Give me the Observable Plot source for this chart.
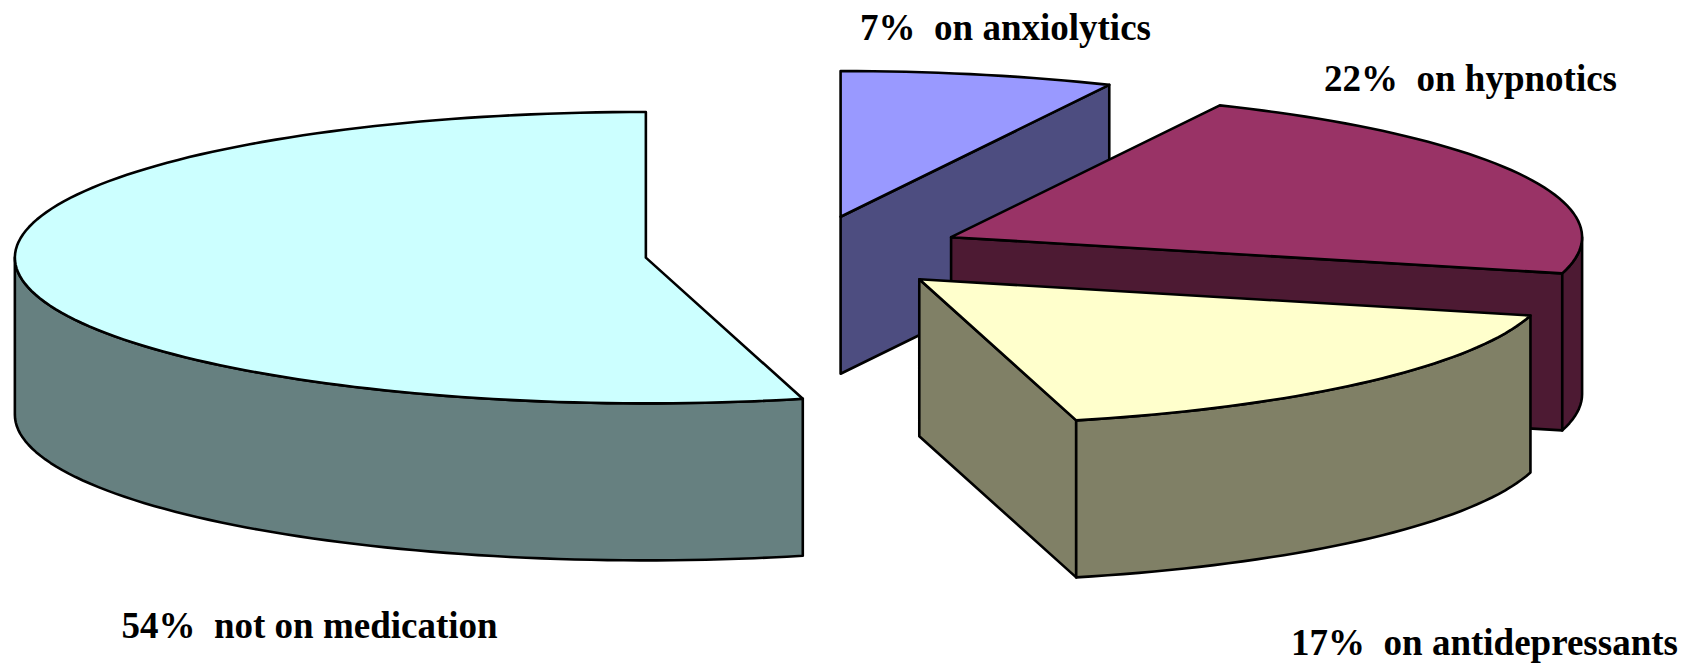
<!DOCTYPE html>
<html><head><meta charset="utf-8">
<script src="https://cdn.jsdelivr.net/npm/d3@7"></script>
<script src="https://cdn.jsdelivr.net/npm/@observablehq/plot@0.6"></script>
<style>body{margin:0;background:#fff}</style>
</head><body><div id="chart"></div>
<script>
// ---- data ----
const categories = ["on anxiolytics", "on hypnotics", "on antidepressants", "not on medication"];
const percents = [7, 22, 17, 54];

// ---- styles ----
const topColor = {"on anxiolytics": "#9999FF", "on hypnotics": "#993366", "on antidepressants": "#FFFFCC", "not on medication": "#CCFFFF"};
const sideColor = {"on anxiolytics": "#4D4D80", "on hypnotics": "#4D1A33", "on antidepressants": "#808066", "not on medication": "#668080"};

// ---- layout (pixels) ----
const W = 1693, H = 664;
const base = {x: 805, y: 252.5};
const RX = 631, RY = 145.7, DEPTH = 157, EXPLODE = 0.255;
const labelPos = {
  "on anxiolytics": [1005, 27.7],
  "on hypnotics": [1470, 78.2],
  "not on medication": [309, 625.9],
  "on antidepressants": [1484, 642.5]
};
const FONT = 37;

// ---- geometry from data ----
const rad = d => d * Math.PI / 180;
const total = d3.sum(percents);
let acc = 0;
const slices = categories.map((c, i) => {
  const a0 = acc / total * 360;
  acc += percents[i];
  const a1 = acc / total * 360;
  const m = (a0 + a1) / 2;
  const cx = base.x + EXPLODE * RX * Math.sin(rad(m));
  const cy = base.y - EXPLODE * RY * Math.cos(rad(m));
  return {c, i, a0, a1, m, cx, cy};
});

function pt(s, a, dz = 0) {
  return {x: s.cx + RX * Math.sin(rad(a)), y: s.cy - RY * Math.cos(rad(a)) + dz};
}
function arc(s, a0, a1, dz = 0) {
  const n = Math.max(2, Math.ceil(Math.abs(a1 - a0) / 1.5));
  return d3.range(n + 1).map(k => pt(s, a0 + (a1 - a0) * k / n, dz));
}

const polys = [];
const order = slices.slice().sort((a, b) => Math.cos(rad(b.m)) - Math.cos(rad(a.m)));
for (const s of order) {
  const side = sideColor[s.c], top = topColor[s.c];
  const C = {x: s.cx, y: s.cy}, Cb = {x: s.cx, y: s.cy + DEPTH};
  // cut face at start angle
  if (Math.sin(rad(s.a0)) < -1e-6) {
    const p = pt(s, s.a0), pb = pt(s, s.a0, DEPTH);
    polys.push({fill: side, pts: [C, p, pb, Cb]});
  }
  // cut face at end angle
  if (Math.sin(rad(s.a1)) > 1e-6) {
    const p = pt(s, s.a1), pb = pt(s, s.a1, DEPTH);
    polys.push({fill: side, pts: [C, p, pb, Cb]});
  }
  // outer wall (front half)
  const w0 = Math.max(s.a0, 90), w1 = Math.min(s.a1, 270);
  if (w1 > w0) {
    polys.push({fill: side, pts: [...arc(s, w0, w1), ...arc(s, w0, w1, DEPTH).reverse()]});
  }
  // top face
  polys.push({fill: top, pts: [C, ...arc(s, s.a0, s.a1)]});
}

const marks = polys.map((p, k) => Plot.line(p.pts, {
  x: "x", y: "y", curve: "linear-closed",
  fill: p.fill, stroke: "#000", strokeWidth: 2.6, strokeLinejoin: "round"
}));

const labelData = slices.map(s => ({
  text: `${percents[s.i]}%\u00a0 ${s.c}`,
  x: labelPos[s.c][0], y: labelPos[s.c][1]
}));
marks.push(Plot.text(labelData, {
  x: "x", y: "y", text: "text", fontSize: FONT, fontWeight: "bold",
  fontFamily: "'Liberation Serif', 'Times New Roman', serif",
  textAnchor: "middle", fill: "#000"
}));

const chart = Plot.plot({
  width: W, height: H,
  margin: 0,
  x: {domain: [0, W], range: [0, W], axis: null},
  y: {domain: [0, H], range: [0, H], axis: null},
  style: {background: "#fff", overflow: "visible"},
  marks
});
document.getElementById("chart").append(chart);
</script>
</body></html>
